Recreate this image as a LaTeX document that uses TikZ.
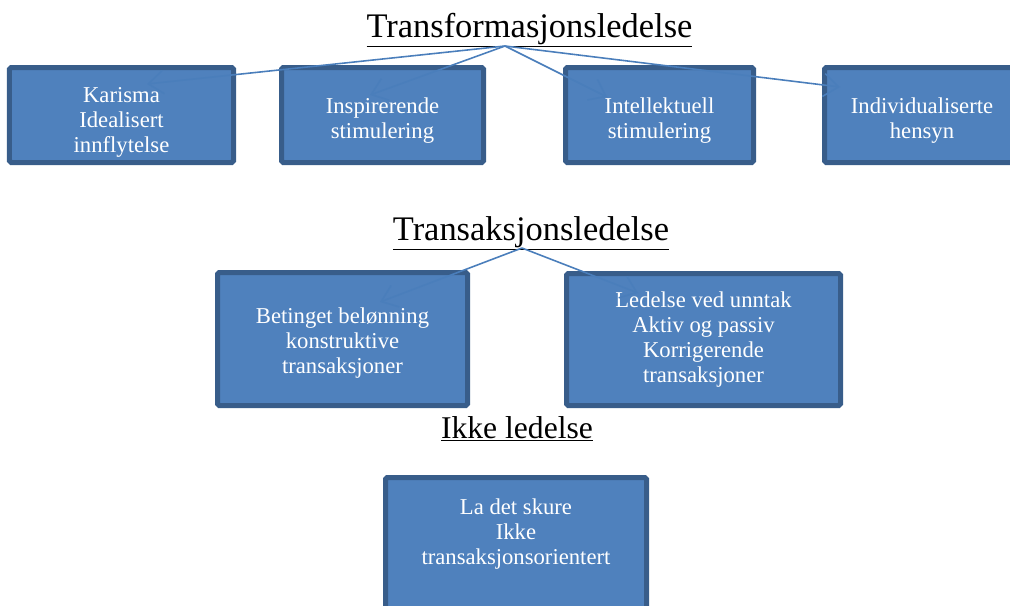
\documentclass[tikz,border=0pt]{standalone}
\usepackage{fontspec}
\setmainfont{Liberation Serif}
\usepackage{tikz}
\usetikzlibrary{arrows.meta}
\definecolor{boxfill}{HTML}{4F81BD}
\definecolor{boxline}{HTML}{385D8A}
\definecolor{linkc}{HTML}{4A7EBB}
\tikzset{
  levelbox/.style={draw=boxline, fill=boxfill, line width=0.1cm, rounded corners=1pt,
    text=white, align=center, inner sep=0pt,
    font=\fontsize{12.9}{14.2}\selectfont},
  heading/.style={anchor=base, inner sep=0pt, font=\fontsize{19.6}{22}\selectfont},
  link/.style={draw=linkc, line width=0.9pt, -{Straight Barb[length=3mm,width=4.6mm]}},
}

\begin{document}
\begin{tikzpicture}
\useasboundingbox (0,0) rectangle (20.2,-12.12);
\begin{scope}
\clip (0,0) rectangle (20.2,-12.12);
% transformasjonsledelse
\node[heading] (trf) at (10.59,-0.74) {\underline{Transformasjonsledelse}};
\node[levelbox, minimum width=4.48cm, minimum height=1.90cm] (karisma) at (2.43,-2.30) {\mbox{}\\[2.3pt]Karisma\\Idealisert\\innflytelse};
\node[levelbox, minimum width=4.04cm, minimum height=1.90cm] (inspir) at (7.65,-2.30) {\mbox{}\\[1.1pt]Inspirerende\\stimulering};
\node[levelbox, minimum width=3.76cm, minimum height=1.90cm] (intell) at (13.19,-2.30) {\mbox{}\\[1.1pt]Intellektuell\\stimulering};
\node[levelbox, minimum width=3.90cm, minimum height=1.90cm] (indiv) at (18.44,-2.30) {\mbox{}\\[1.1pt]Individualiserte\\hensyn};
% transaksjonsledelse
\node[heading] (trs) at (10.62,-4.80) {\underline{Transaksjonsledelse}};
\node[levelbox, minimum width=5.00cm, minimum height=2.66cm] (betinget) at (6.85,-6.78) {\mbox{}\\[-0.8pt]Betinget belønning\\konstruktive\\transaksjoner};
\node[levelbox, minimum width=5.48cm, minimum height=2.64cm] (unntak) at (14.07,-6.79) {Ledelse ved unntak\\Aktiv og passiv\\Korrigerende\\transaksjoner};
% ikke ledelse
\node[heading, font=\fontsize{18}{22}\selectfont] (ikke) at (10.34,-8.76) {\underline{Ikke ledelse}};
\node[levelbox, minimum width=5.22cm, minimum height=2.66cm] (skure) at (10.32,-10.88) {La det skure\\Ikke\\transaksjonsorientert\\\mbox{}};
% piler
\coordinate (trfTop) at (10.10,-0.92);
\coordinate (trsTop) at (10.44,-4.96);
\coordinate (karIn) at (2.94,-1.68);
\coordinate (inspIn) at (7.40,-1.90);
\coordinate (intIn) at (12.14,-1.94);
\coordinate (indIn) at (16.80,-1.74);
\coordinate (betIn) at (7.60,-6.04);
\coordinate (unnIn) at (12.76,-5.86);
\draw[link] (trfTop) -- (karIn);
\draw[link] (trfTop) -- (inspIn);
\draw[link] (trfTop) -- (intIn);
\draw[link] (trfTop) -- (indIn);
\draw[link] (trsTop) -- (betIn);
\draw[link] (trsTop) -- (unnIn);
\end{scope}
\end{tikzpicture}
\end{document}
